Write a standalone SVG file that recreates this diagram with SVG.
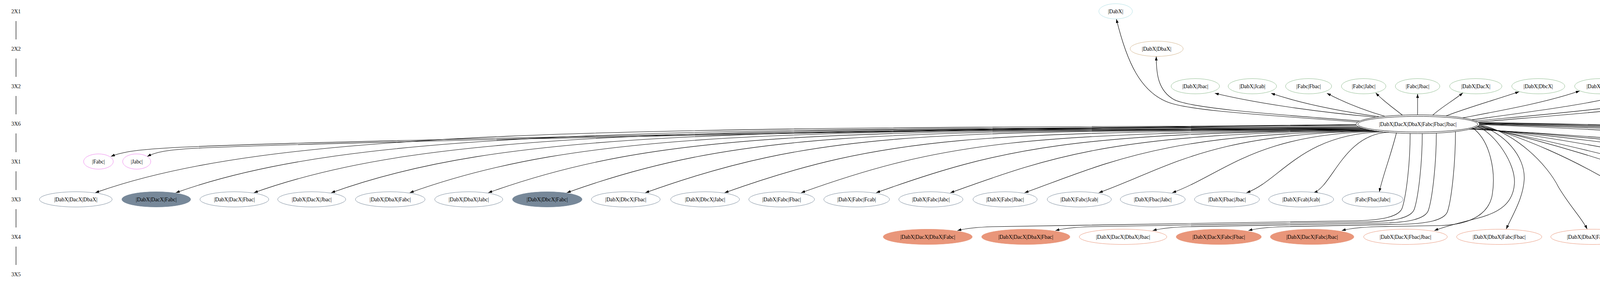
<svg xmlns="http://www.w3.org/2000/svg" width="7085" height="733" viewBox="0 0 7085 733">
<defs>
<style>
text{font-family:"Liberation Serif","Times New Roman",serif;font-size:14px;text-anchor:middle;fill:#000}
.n ellipse{fill:#fff;stroke-width:1}
.c0 ellipse{stroke:#b0e0e6}
.c1 ellipse{stroke:#d2b48c}
.c2 ellipse{stroke:#8fbc8f}
.c4 ellipse{stroke:#ee82ee}
.c5 ellipse{stroke:#778899}
.c6 ellipse{stroke:#e9967a}
.c7 ellipse{stroke:#f0e68c}
.f5 ellipse{fill:#778899}
.f6 ellipse{fill:#e9967a}
.f7 ellipse{fill:#f0e68c}
.hub ellipse{fill:none;stroke:#000;stroke-width:1}
.e path{fill:none;stroke:#000;stroke-width:1.1;marker-end:url(#ah)}
.r line{stroke:#000;stroke-width:1.2}
</style>
<marker id="ah" markerWidth="10" markerHeight="7" refX="10" refY="3.5" orient="auto" markerUnits="userSpaceOnUse"><path d="M0,0 L10,3.5 L0,7 Z" fill="#000"/></marker>
</defs>
<rect width="7085" height="733" fill="#fff"/>
<g id="ranks" class="r">
<text x="41" y="34">2X1</text><text x="41" y="130">2X2</text><text x="41" y="226">3X2</text><text x="41" y="322">3X6</text>
<text x="41" y="419">3X1</text><text x="41" y="516">3X3</text><text x="41" y="612">3X4</text><text x="41" y="708">3X5</text>
<line x1="41" y1="54" x2="41" y2="101"/><line x1="41" y1="150" x2="41" y2="197"/><line x1="41" y1="246" x2="41" y2="293"/>
<line x1="41" y1="342" x2="41" y2="390"/><line x1="41" y1="439" x2="41" y2="487"/><line x1="41" y1="536" x2="41" y2="583"/>
<line x1="41" y1="632" x2="41" y2="679"/>
</g>
<g id="edges" class="e">
<path d="M3476,313 C3250,295 3050,285 2990,262 C2920,235 2885,160 2858,49"/>
<path d="M3480,310 C3250,292 3050,278 3005,255 C2965,232 2960,190 2960,145"/>
<path d="M3521,300 C3400,290 3230,268 3110,239"/>
<path d="M3530,299 C3430,285 3330,265 3254,239"/>
<path d="M3545,298 C3490,282 3440,262 3397,239"/>
<path d="M3590,295 C3565,275 3540,258 3522,238"/>
<path d="M3629,294 L3629,241"/>
<path d="M3668,295 C3690,275 3720,258 3745,238"/>
<path d="M3702,297 C3760,275 3830,255 3889,235"/>
<path d="M3745,302 C3850,282 3960,262 4044,233"/>
<path d="M3768,307 C3930,285 4090,265 4196,233"/>
<path d="M3777,310 C3990,290 4220,272 4348,234"/>
<path d="M3784,313 C4050,290 4350,268 4501,234"/>
<path d="M3471,319 C2000,335 700,365 450,378 C360,383 315,388 284,401"/>
<path d="M3471,320 C2000,337 750,368 500,380 C430,384 400,389 377,401"/>
<path d="M3473,322 C1536,327 694,332 244,494"/>
<path d="M3477,325 C1661,330 900,332 450,494"/>
<path d="M3481,326 C1782,331 1100,332 650,494"/>
<path d="M3485,328 C1903,333 1298,332 848,494"/>
<path d="M3489,329 C2025,334 1499,332 1049,494"/>
<path d="M3493,330 C2147,335 1700,332 1250,494"/>
<path d="M3497,331 C2269,336 1901,332 1451,494"/>
<path d="M3501,332 C2392,337 2102,332 1652,494"/>
<path d="M3505,333 C2515,338 2267,346 1855,494"/>
<path d="M3509,334 C2634,339 2415,363 2051,494"/>
<path d="M3513,334 C2751,339 2560,380 2243,494"/>
<path d="M3517,335 C2867,340 2704,396 2433,494"/>
<path d="M3521,336 C2982,341 2847,413 2623,494"/>
<path d="M3525,336 C3098,341 2991,430 2813,494"/>
<path d="M3530,337 C3213,342 3133,446 3001,494"/>
<path d="M3540,338 C3331,343 3278,463 3191,494"/>
<path d="M3555,339 C3440,344 3411,477 3363,494"/>
<path d="M3575,340 C3560,400 3540,450 3531,492"/>
<path d="M3610,342 C3610,420 3600,500 3590,532 C3583,555 3540,565 3460,566 L2541,581 Q2481,583 2451,591"/>
<path d="M3641,342 C3641,420 3631,503 3621,535 C3614,558 3571,568 3491,569 L2792,581 Q2732,583 2702,591"/>
<path d="M3677,341 C3677,420 3667,506 3657,538 C3650,561 3607,571 3527,572 L3041,581 Q2981,583 2951,591"/>
<path d="M3726,337 C3726,420 3716,509 3706,541 C3699,564 3656,574 3576,575 L3286,581 Q3226,583 3196,591"/>
<path d="M3770,328 C3815,360 3830,440 3820,500 C3812,545 3770,575 3690,578 L3525,581 Q3465,583 3435,591"/>
<path d="M3782,323 C3830,345 3880,420 3877,470 C3874,520 3840,545 3780,560 C3740,570 3700,580 3672,591"/>
<path d="M3785,321 C3850,340 3905,400 3902,460 C3899,510 3870,555 3856,587"/>
<path d="M3787,319 C3880,340 3960,420 3990,480 C4020,530 4050,560 4063,587"/>
<path d="M3786,321 C3900,350 4030,410 4130,470 C4200,515 4250,550 4284,586"/>
<path d="M3783,323 C3950,360 4150,420 4300,480 C4400,520 4470,555 4512,587"/>
<path d="M3779,325 C4000,365 4250,430 4450,490 C4580,530 4680,560 4747,587"/>
<path d="M3775,327 C4200,380 4700,500 4974,588"/>
<path d="M3769,329 C4300,375 4900,480 5209,590"/>
<path d="M3766,330 C4400,372 5100,470 5440,590"/>
<path d="M3761,331 C4500,370 5300,465 5665,592"/>
<path d="M3787,319 C4800,360 5700,450 5830,575 C5860,605 5860,625 5840,638 C5780,660 5680,670 5616,688"/>
<path d="M3787,318 C4900,350 5800,450 5870,560 C5895,600 5885,630 5843,683"/>
<path d="M3787,317 C5000,345 5800,450 5920,560 C5980,610 6040,640 6076,683"/>
<path d="M3787,316 C5000,340 5850,440 6052,560 C6200,640 6290,660 6336,685"/>
<path d="M3787,315 C5200,340 6050,430 6276,560 C6450,640 6560,665 6609,685"/>
<path d="M3786,314 C5300,335 6150,440 6416,560 C6650,640 6800,660 6883,686"/>
</g>
<g id="n_DabX" class="n c0"><ellipse cx="2856" cy="29" rx="43" ry="19.5"/><text x="2856" y="34">|DabX|</text></g>
<g id="n_DabX_DbaX" class="n c1"><ellipse cx="2961" cy="125" rx="68" ry="19.5"/><text x="2961" y="130">|DabX|DbaX|</text></g>
<g id="n_DabX_Jbac" class="n c2"><ellipse cx="3060" cy="221" rx="62" ry="19.5"/><text x="3060" y="226">|DabX|Jbac|</text></g>
<g id="n_DabX_Jcab" class="n c2"><ellipse cx="3206" cy="221" rx="62" ry="19.5"/><text x="3206" y="226">|DabX|Jcab|</text></g>
<g id="n_Fabc_Fbac" class="n c2"><ellipse cx="3350" cy="221" rx="59" ry="19.5"/><text x="3350" y="226">|Fabc|Fbac|</text></g>
<g id="n_Fabc_Jabc" class="n c2"><ellipse cx="3491" cy="221" rx="57" ry="19.5"/><text x="3491" y="226">|Fabc|Jabc|</text></g>
<g id="n_Fabc_Jbac" class="n c2"><ellipse cx="3629" cy="221" rx="57" ry="19.5"/><text x="3629" y="226">|Fabc|Jbac|</text></g>
<g id="n_DabX_DacX" class="n c2"><ellipse cx="3778" cy="221" rx="67" ry="19.5"/><text x="3778" y="226">|DabX|DacX|</text></g>
<g id="n_DabX_DbcX" class="n c2"><ellipse cx="3938" cy="221" rx="68" ry="19.5"/><text x="3938" y="226">|DabX|DbcX|</text></g>
<g id="n_DabX_Fabc" class="n c2"><ellipse cx="4096" cy="221" rx="65" ry="19.5"/><text x="4096" y="226">|DabX|Fabc|</text></g>
<g id="n_DabX_Fbac" class="n c2"><ellipse cx="4247" cy="221" rx="64" ry="19.5"/><text x="4247" y="226">|DabX|Fbac|</text></g>
<g id="n_DabX_Fcab" class="n c2"><ellipse cx="4398" cy="221" rx="64" ry="19.5"/><text x="4398" y="226">|DabX|Fcab|</text></g>
<g id="n_DabX_Jabc" class="n c2"><ellipse cx="4548" cy="221" rx="62" ry="19.5"/><text x="4548" y="226">|DabX|Jabc|</text></g>
<g id="n_hub" class="hub"><ellipse cx="3629.5" cy="318.3" rx="158" ry="24"/><ellipse cx="3629.5" cy="318.3" rx="153.5" ry="20"/><text x="3629.5" y="323">|DabX|DacX|DbaX|Fabc|Fbac|Jbac|</text></g>
<g id="n_Fabc" class="n c4"><ellipse cx="252" cy="414" rx="38" ry="19.5"/><text x="252" y="419">|Fabc|</text></g>
<g id="n_Jabc" class="n c4"><ellipse cx="350" cy="414" rx="36" ry="19.5"/><text x="350" y="419">|Jabc|</text></g>
<g id="n_DabX_DacX_DbaX" class="n c5"><ellipse cx="194" cy="511" rx="93" ry="19.5"/><text x="194" y="516">|DabX|DacX|DbaX|</text></g>
<g id="n_DabX_DacX_Fabc" class="n c5 f5"><ellipse cx="400" cy="511" rx="88" ry="19.5"/><text x="400" y="516">|DabX|DacX|Fabc|</text></g>
<g id="n_DabX_DacX_Fbac" class="n c5"><ellipse cx="600" cy="511" rx="88" ry="19.5"/><text x="600" y="516">|DabX|DacX|Fbac|</text></g>
<g id="n_DabX_DacX_Jbac" class="n c5"><ellipse cx="798" cy="511" rx="87" ry="19.5"/><text x="798" y="516">|DabX|DacX|Jbac|</text></g>
<g id="n_DabX_DbaX_Fabc" class="n c5"><ellipse cx="999" cy="511" rx="89" ry="19.5"/><text x="999" y="516">|DabX|DbaX|Fabc|</text></g>
<g id="n_DabX_DbaX_Jabc" class="n c5"><ellipse cx="1200" cy="511" rx="87" ry="19.5"/><text x="1200" y="516">|DabX|DbaX|Jabc|</text></g>
<g id="n_DabX_DbcX_Fabc" class="n c5 f5"><ellipse cx="1401" cy="511" rx="89" ry="19.5"/><text x="1401" y="516">|DabX|DbcX|Fabc|</text></g>
<g id="n_DabX_DbcX_Fbac" class="n c5"><ellipse cx="1602" cy="511" rx="88" ry="19.5"/><text x="1602" y="516">|DabX|DbcX|Fbac|</text></g>
<g id="n_DabX_DbcX_Jabc" class="n c5"><ellipse cx="1805" cy="511" rx="88" ry="19.5"/><text x="1805" y="516">|DabX|DbcX|Jabc|</text></g>
<g id="n_DabX_Fabc_Fbac" class="n c5"><ellipse cx="2001" cy="511" rx="84" ry="19.5"/><text x="2001" y="516">|DabX|Fabc|Fbac|</text></g>
<g id="n_DabX_Fabc_Fcab" class="n c5"><ellipse cx="2193" cy="511" rx="84" ry="19.5"/><text x="2193" y="516">|DabX|Fabc|Fcab|</text></g>
<g id="n_DabX_Fabc_Jabc" class="n c5"><ellipse cx="2383" cy="511" rx="82" ry="19.5"/><text x="2383" y="516">|DabX|Fabc|Jabc|</text></g>
<g id="n_DabX_Fabc_Jbac" class="n c5"><ellipse cx="2573" cy="511" rx="82" ry="19.5"/><text x="2573" y="516">|DabX|Fabc|Jbac|</text></g>
<g id="n_DabX_Fabc_Jcab" class="n c5"><ellipse cx="2763" cy="511" rx="82" ry="19.5"/><text x="2763" y="516">|DabX|Fabc|Jcab|</text></g>
<g id="n_DabX_Fbac_Jabc" class="n c5"><ellipse cx="2951" cy="511" rx="83" ry="19.5"/><text x="2951" y="516">|DabX|Fbac|Jabc|</text></g>
<g id="n_DabX_Fbac_Jbac" class="n c5"><ellipse cx="3141" cy="511" rx="83" ry="19.5"/><text x="3141" y="516">|DabX|Fbac|Jbac|</text></g>
<g id="n_DabX_Fcab_Jcab" class="n c5"><ellipse cx="3331" cy="511" rx="83" ry="19.5"/><text x="3331" y="516">|DabX|Fcab|Jcab|</text></g>
<g id="n_Fabc_Fbac_Jabc" class="n c5"><ellipse cx="3514" cy="511" rx="78" ry="19.5"/><text x="3514" y="516">|Fabc|Fbac|Jabc|</text></g>
<g id="n_DabX_DacX_DbaX_Fabc" class="n c6 f6"><ellipse cx="2375" cy="607" rx="114" ry="19.5"/><text x="2375" y="612">|DabX|DacX|DbaX|Fabc|</text></g>
<g id="n_DabX_DacX_DbaX_Fbac" class="n c6 f6"><ellipse cx="2626" cy="607" rx="113" ry="19.5"/><text x="2626" y="612">|DabX|DacX|DbaX|Fbac|</text></g>
<g id="n_DabX_DacX_DbaX_Jbac" class="n c6"><ellipse cx="2875" cy="607" rx="112" ry="19.5"/><text x="2875" y="612">|DabX|DacX|DbaX|Jbac|</text></g>
<g id="n_DabX_DacX_Fabc_Fbac" class="n c6 f6"><ellipse cx="3120" cy="607" rx="109" ry="19.5"/><text x="3120" y="612">|DabX|DacX|Fabc|Fbac|</text></g>
<g id="n_DabX_DacX_Fabc_Jbac" class="n c6 f6"><ellipse cx="3359" cy="607" rx="107" ry="19.5"/><text x="3359" y="612">|DabX|DacX|Fabc|Jbac|</text></g>
<g id="n_DabX_DacX_Fbac_Jbac" class="n c6"><ellipse cx="3598" cy="607" rx="107" ry="19.5"/><text x="3598" y="612">|DabX|DacX|Fbac|Jbac|</text></g>
<g id="n_DabX_DbaX_Fabc_Fbac" class="n c6"><ellipse cx="3838" cy="607" rx="109" ry="19.5"/><text x="3838" y="612">|DabX|DbaX|Fabc|Fbac|</text></g>
<g id="n_DabX_DbaX_Fabc_Jabc" class="n c6"><ellipse cx="4078" cy="607" rx="108" ry="19.5"/><text x="4078" y="612">|DabX|DbaX|Fabc|Jabc|</text></g>
<g id="n_DabX_DbaX_Fabc_Jbac" class="n c6"><ellipse cx="4318" cy="607" rx="108" ry="19.5"/><text x="4318" y="612">|DabX|DbaX|Fabc|Jbac|</text></g>
<g id="n_DabX_DbcX_Fabc_Fbac" class="n c6 f6"><ellipse cx="4560" cy="607" rx="109" ry="19.5"/><text x="4560" y="612">|DabX|DbcX|Fabc|Fbac|</text></g>
<g id="n_DabX_DbcX_Fabc_Jabc" class="n c6"><ellipse cx="4801" cy="607" rx="108" ry="19.5"/><text x="4801" y="612">|DabX|DbcX|Fabc|Jabc|</text></g>
<g id="n_DabX_DbcX_Fbac_Jabc" class="n c6"><ellipse cx="5041" cy="607" rx="108" ry="19.5"/><text x="5041" y="612">|DabX|DbcX|Fbac|Jabc|</text></g>
<g id="n_DabX_Fabc_Fbac_Jabc" class="n c6"><ellipse cx="5277" cy="607" rx="103" ry="19.5"/><text x="5277" y="612">|DabX|Fabc|Fbac|Jabc|</text></g>
<g id="n_DabX_Fabc_Fbac_Jbac" class="n c6"><ellipse cx="5509" cy="607" rx="103" ry="19.5"/><text x="5509" y="612">|DabX|Fabc|Fbac|Jbac|</text></g>
<g id="n_DabX_Fabc_Fcab_Jcab" class="n c6"><ellipse cx="5741" cy="607" rx="103" ry="19.5"/><text x="5741" y="612">|DabX|Fabc|Fcab|Jcab|</text></g>
<g id="n_DabX_DacX_DbaX_Fabc_Fbac" class="n c7 f7"><ellipse cx="5524" cy="703" rx="135" ry="19.5"/><text x="5524" y="708">|DabX|DacX|DbaX|Fabc|Fbac|</text></g>
<g id="n_DabX_DacX_DbaX_Fabc_Jbac" class="n c7 f7"><ellipse cx="5814" cy="703" rx="132" ry="19.5"/><text x="5814" y="708">|DabX|DacX|DbaX|Fabc|Jbac|</text></g>
<g id="n_DabX_DacX_DbaX_Fbac_Jbac" class="n c7"><ellipse cx="6102" cy="703" rx="132" ry="19.5"/><text x="6102" y="708">|DabX|DacX|DbaX|Fbac|Jbac|</text></g>
<g id="n_DabX_DacX_Fabc_Fbac_Jbac" class="n c7 f7"><ellipse cx="6387" cy="703" rx="128" ry="19.5"/><text x="6387" y="708">|DabX|DacX|Fabc|Fbac|Jbac|</text></g>
<g id="n_DabX_DbaX_Fabc_Fbac_Jabc" class="n c7"><ellipse cx="6668" cy="703" rx="129" ry="19.5"/><text x="6668" y="708">|DabX|DbaX|Fabc|Fbac|Jabc|</text></g>
<g id="n_DabX_DbcX_Fabc_Fbac_Jabc" class="n c7"><ellipse cx="6951" cy="703" rx="129" ry="19.5"/><text x="6951" y="708">|DabX|DbcX|Fabc|Fbac|Jabc|</text></g>
</svg>
